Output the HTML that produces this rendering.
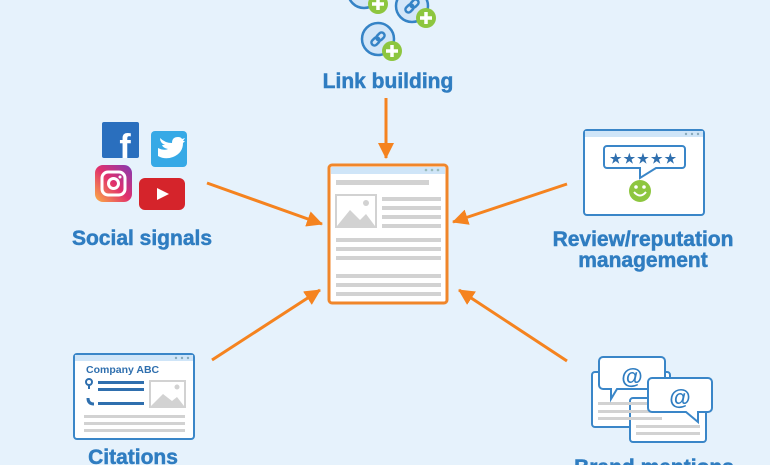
<!DOCTYPE html>
<html><head><meta charset="utf-8"><style>
html,body{margin:0;padding:0;background:#e6f2fc;}
svg{display:block}
text{font-family:"Liberation Sans",sans-serif;font-weight:bold;fill:#2f7dc1;font-size:21px;text-anchor:middle}
.lb{stroke:#2f7dc1;stroke-width:0.5px}
</style></head><body>
<svg width="770" height="465" viewBox="0 0 770 465" xmlns="http://www.w3.org/2000/svg">
<defs>
<marker id="ah" markerUnits="userSpaceOnUse" markerWidth="20" markerHeight="20" refX="15" refY="8" orient="auto">
<path d="M0,0 L16,8 L0,16 z" fill="#f5831f"/>
</marker>
<g id="link">
<circle cx="0" cy="0" r="16" fill="#d3e6f8" stroke="#3583c6" stroke-width="2.5"/>
<g transform="rotate(-45)" fill="none" stroke="#3583c6" stroke-width="2.5">
<rect x="-8" y="-3" width="9" height="6" rx="3"/><rect x="-1" y="-3" width="9" height="6" rx="3"/>
</g>
<circle cx="14" cy="12" r="10" fill="#8dc63f"/>
<path d="M14,6 v12 M8,12 h12" stroke="#fff" stroke-width="3.5"/>
</g>
</defs>
<rect width="770" height="465" fill="#e6f2fc"/>

<use href="#link" x="364" y="-8"/>
<use href="#link" x="412" y="6"/>
<use href="#link" x="378" y="39"/>
<text class="lb" x="388" y="88">Link building</text>
<line x1="386" y1="98" x2="386" y2="158" stroke="#f5831f" stroke-width="3" marker-end="url(#ah)"/>

<line x1="207" y1="183" x2="322" y2="224" stroke="#f5831f" stroke-width="3" marker-end="url(#ah)"/>
<line x1="567" y1="184" x2="453" y2="222" stroke="#f5831f" stroke-width="3" marker-end="url(#ah)"/>
<line x1="212" y1="360" x2="320" y2="290" stroke="#f5831f" stroke-width="3" marker-end="url(#ah)"/>
<line x1="567" y1="361" x2="459" y2="290" stroke="#f5831f" stroke-width="3" marker-end="url(#ah)"/>

<rect x="329" y="165" width="118" height="138" rx="3" fill="#fff" stroke="#f0862a" stroke-width="3"/>
<rect x="331" y="167" width="114" height="7" fill="#cfe5f8"/>
<circle cx="426" cy="170" r="1.3" fill="#9bb"/><circle cx="432" cy="170" r="1.3" fill="#9bb"/><circle cx="438" cy="170" r="1.3" fill="#9bb"/>
<g fill="#d2d2d2">
<rect x="336" y="180" width="93" height="5"/>
<rect x="336" y="195" width="40" height="32" fill="none" stroke="#d2d2d2" stroke-width="2"/>
<path d="M337,226 L350,210 L360,220 L366,214 L375,226 z"/>
<circle cx="366" cy="203" r="3"/>
<rect x="382" y="197" width="59" height="4"/><rect x="382" y="206" width="59" height="4"/>
<rect x="382" y="215" width="59" height="4"/><rect x="382" y="224" width="59" height="4"/>
<rect x="336" y="238" width="105" height="4"/><rect x="336" y="247" width="105" height="4"/>
<rect x="336" y="256" width="105" height="4"/>
<rect x="336" y="274" width="105" height="4"/><rect x="336" y="283" width="105" height="4"/>
<rect x="336" y="292" width="105" height="4"/>
</g>

<rect x="102" y="122" width="37" height="36" rx="2" fill="#2a6fbe"/>
<text x="125" y="158" style="fill:#fff;font-size:34px">f</text>
<rect x="151" y="131" width="36" height="36" rx="4" fill="#36a9e6"/>
<path d="M158,148 q6,3 10,1 q-5,-1 -6,-4 q2,0 3,0 q-5,-2 -5,-7 q5,5 12,5 q0,-6 6,-6 q3,0 4,2 l3,-1 l-2,3 l2,0 l-2,2 q0,10 -10,14 q-8,3 -15,-1 z" fill="#fff"/>
<defs><linearGradient id="ig" x1="0" y1="1" x2="1" y2="0"><stop offset="0" stop-color="#fcb045"/><stop offset="0.5" stop-color="#e1306c"/><stop offset="1" stop-color="#833ab4"/></linearGradient></defs>
<rect x="95" y="165" width="37" height="37" rx="8" fill="url(#ig)"/>
<rect x="102" y="172" width="23" height="23" rx="6" fill="none" stroke="#fff" stroke-width="3"/>
<circle cx="113.5" cy="183.5" r="5" fill="none" stroke="#fff" stroke-width="3"/>
<circle cx="120" cy="177" r="1.5" fill="#fff"/>
<rect x="139" y="178" width="46" height="32" rx="6" fill="#d5242b"/>
<path d="M157,188 L169,194 L157,200 z" fill="#fff"/>
<text class="lb" x="142" y="245">Social signals</text>

<rect x="584" y="130" width="120" height="85" rx="3" fill="#fff" stroke="#3a86c8" stroke-width="2"/>
<rect x="585" y="131" width="118" height="6" fill="#cfe5f8"/>
<circle cx="686" cy="134" r="1.2" fill="#8ab"/><circle cx="692" cy="134" r="1.2" fill="#8ab"/><circle cx="698" cy="134" r="1.2" fill="#8ab"/>
<path d="M607,146 h75 a3,3 0 0 1 3,3 v16 a3,3 0 0 1 -3,3 h-26 l-16,10 v-10 h-33 a3,3 0 0 1 -3,-3 v-16 a3,3 0 0 1 3,-3 z" fill="#fff" stroke="#3a86c8" stroke-width="2"/>
<text x="644" y="163" style="font-size:13px;letter-spacing:2px;fill:#2f6fae">★★★★★</text>
<circle cx="640" cy="191" r="11" fill="#8dc63f"/>
<circle cx="636" cy="187" r="1.8" fill="#fff"/><circle cx="644" cy="187" r="1.8" fill="#fff"/>
<path d="M634,192 q6,7 12,0" fill="none" stroke="#fff" stroke-width="2"/>
<text class="lb" x="643" y="246">Review/reputation</text>
<text class="lb" x="643" y="267">management</text>

<rect x="74" y="354" width="120" height="85" rx="3" fill="#fff" stroke="#3a86c8" stroke-width="2"/>
<rect x="75" y="355" width="118" height="6" fill="#cfe5f8"/>
<circle cx="176" cy="358" r="1.2" fill="#8ab"/><circle cx="182" cy="358" r="1.2" fill="#8ab"/><circle cx="188" cy="358" r="1.2" fill="#8ab"/>
<text x="86" y="373" style="font-size:10.5px;text-anchor:start;fill:#2f6fae">Company ABC</text>
<circle cx="89" cy="382" r="3" stroke="#2f6fae" stroke-width="2" fill="none"/>
<path d="M89,385 l0,4" stroke="#2f6fae" stroke-width="2"/>
<rect x="98" y="381" width="46" height="3" fill="#2f6fae"/><rect x="98" y="388" width="46" height="3" fill="#2f6fae"/>
<path d="M88,398 q0,6 6,6" stroke="#2f6fae" stroke-width="3" fill="none"/>
<rect x="98" y="402" width="46" height="3" fill="#2f6fae"/>
<rect x="150" y="381" width="35" height="26" fill="none" stroke="#d2d2d2" stroke-width="2"/>
<path d="M151,406 L163,394 L172,401 L177,397 L184,406 z" fill="#d2d2d2"/>
<circle cx="177" cy="387" r="2.5" fill="#d2d2d2"/>
<rect x="84" y="415" width="101" height="3" fill="#d2d2d2"/><rect x="84" y="422" width="101" height="3" fill="#d2d2d2"/>
<rect x="84" y="429" width="101" height="3" fill="#d2d2d2"/>
<text class="lb" x="133" y="464">Citations</text>

<rect x="592" y="372" width="78" height="55" rx="3" fill="#fff" stroke="#3a86c8" stroke-width="2"/>
<rect x="630" y="398" width="76" height="44" rx="3" fill="#fff" stroke="#3a86c8" stroke-width="2"/>
<g fill="#d2d2d2"><rect x="598" y="402" width="50" height="3"/><rect x="598" y="410" width="64" height="3"/><rect x="598" y="417" width="64" height="3"/>
<rect x="636" y="425" width="64" height="3"/><rect x="636" y="432" width="64" height="3"/></g>
<path d="M603,357 h58 a4,4 0 0 1 4,4 v24 a4,4 0 0 1 -4,4 h-44 l-6,10 v-10 h-8 a4,4 0 0 1 -4,-4 v-24 a4,4 0 0 1 4,-4 z" fill="#fff" stroke="#3a86c8" stroke-width="2"/>
<text x="632" y="384" style="font-size:22px;fill:#2f7dc1">@</text>
<path d="M652,378 h56 a4,4 0 0 1 4,4 v26 a4,4 0 0 1 -4,4 h-10 v10 l-12,-10 h-34 a4,4 0 0 1 -4,-4 v-26 a4,4 0 0 1 4,-4 z" fill="#fff" stroke="#3a86c8" stroke-width="2"/>
<text x="680" y="405" style="font-size:22px;fill:#2f7dc1">@</text>
<text class="lb" x="654" y="474">Brand mentions</text>
</svg>
</body></html>
